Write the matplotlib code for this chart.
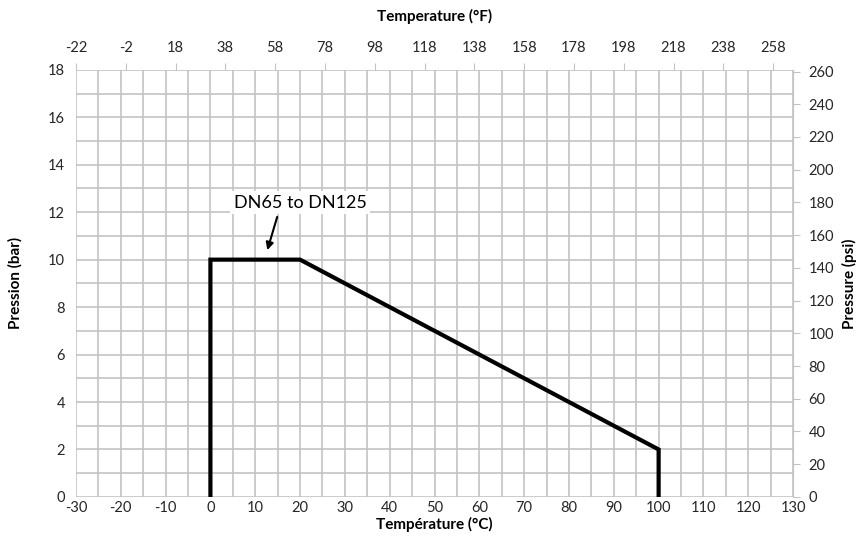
import matplotlib
matplotlib.use("Agg")
import matplotlib.pyplot as plt
import numpy as np

plt.rcParams['font.family'] = ['Lato', 'DejaVu Sans']
plt.rcParams['axes.unicode_minus'] = False

# pressure/temperature limit curve
temp_c = [0, 0, 20, 60, 100, 100]
press_bar = [0, 10, 10, 6, 2, 0]

x_ticks_c = list(range(-30, 131, 10))
y_ticks_bar = list(range(0, 19, 2))
top_ticks_f = list(range(-22, 259, 20))
right_ticks_psi = list(range(0, 261, 20))

label_text = "DN65 to DN125"

BAR_TO_PSI = 14.5038
grid_col = "#c3c3c3"
txt_col = "#262626"

fig = plt.figure(figsize=(8.63, 5.54), dpi=100)
ax = fig.add_axes([0.088, 0.103, 0.831, 0.771])

ax.plot(temp_c, press_bar, color="black", lw=3, solid_joinstyle="miter", zorder=3)

ax.set_xlim(-30, 130)
ax.set_ylim(0, 18)
ax.set_xticks(x_ticks_c)
ax.set_yticks(y_ticks_bar)
ax.set_xticks(np.arange(-30, 131, 5), minor=True)
ax.set_yticks(np.arange(0, 19, 1), minor=True)
ax.grid(which="both", color=grid_col, lw=1.2)
ax.set_axisbelow(True)
for s in ax.spines.values():
    s.set_visible(False)
ax.tick_params(axis="x", which="both", length=0, labelsize=10.5, colors=txt_col, pad=3)
ax.tick_params(axis="y", which="both", length=0, labelsize=10.5, colors=txt_col, pad=8)
ax.set_xlabel("Température (°C)", fontsize=11, fontweight="bold", labelpad=1)
ax.set_ylabel("Pression (bar)", fontsize=11, fontweight="bold", labelpad=18)

# top axis in Fahrenheit
axt = ax.twiny()
axt.set_xlim(-30 * 9 / 5 + 32, 130 * 9 / 5 + 32)
axt.set_xticks(top_ticks_f)
axt.tick_params(axis="x", length=5, color=grid_col, labelsize=10.5, labelcolor=txt_col, pad=6)
for s in axt.spines.values():
    s.set_visible(False)
axt.set_xlabel("Temperature (°F)", fontsize=11, fontweight="bold", labelpad=14)

# right axis in psi
axr = ax.twinx()
axr.set_ylim(0, 18 * BAR_TO_PSI)
axr.set_yticks(right_ticks_psi)
axr.tick_params(axis="y", length=5, color=grid_col, labelsize=10.5, labelcolor=txt_col, pad=6)
for s in axr.spines.values():
    s.set_visible(False)
axr.spines["right"].set_visible(True)
axr.spines["right"].set_color(grid_col)
axr.set_ylabel("Pressure (psi)", fontsize=11, fontweight="bold", labelpad=6)

ax.text(20, 12.4, label_text, ha="center", va="center", fontsize=13, color="black",
        bbox=dict(boxstyle="square,pad=0.2", fc="white", ec="none"), zorder=5)
ax.annotate("", xy=(12.7, 10.4), xytext=(14.9, 11.8),
            arrowprops=dict(arrowstyle="-|>", color="black", lw=1.5,
                            shrinkA=0, shrinkB=0, mutation_scale=11),
            zorder=5)

fig.savefig("out.png", dpi=100)
